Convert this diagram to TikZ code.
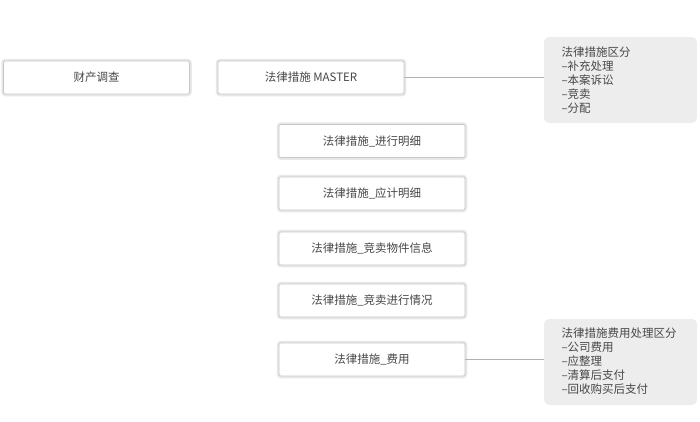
\documentclass[tikz,border=0pt]{standalone}
\usepackage{fontspec}
\setmainfont{Noto Sans CJK SC}
\usepackage{tikz}
\usetikzlibrary{shapes}

\begin{document}
\begin{tikzpicture}[x=1pt, y=-1pt,
        main/.style = {draw=black!22, line width=0.7pt, fill=white, rounded corners=2pt,
                preaction={draw=black!9, line width=4.5pt},
                minimum width=186pt, minimum height=33pt, text=black!72, font=\fontsize{11.5}{13}\selectfont},
        note/.style = {fill=black!7, rounded corners=5pt, minimum width=153pt, minimum height=86pt},
        notetext/.style = {anchor=north west, align=left, text=black!72, font=\fontsize{11.5}{14}\selectfont}]
                \useasboundingbox (0,0) rectangle (700,421);

                \node[main] at (96.5, 77.5) (cczc) {财产调查};
                \node[main] at (311, 77.5) (mst) {法律措施 MASTER};
                \node[main] at (372, 141) (jxmx) {法律措施\_进行明细};
                \node[main] at (372, 193.5) (yjmx) {法律措施\_应计明细};
                \node[main] at (372, 248.5) (wjxx) {法律措施\_竞卖物件信息};
                \node[main] at (372, 300.5) (jmqk) {法律措施\_竞卖进行情况};
                \node[main] at (372, 359.5) (fy) {法律措施\_费用};

                \node[note] at (620.5, 80) (qf) {};
                \node[notetext] at (558, 43) (qft) {法律措施区分\\–补充处理\\–本案诉讼\\–竞卖\\–分配};
                \node[note] at (620.5, 362) (fyqf) {};
                \node[notetext] at (558, 324) (fyqft) {法律措施费用处理区分\\–公司费用\\–应整理\\–清算后支付\\–回收购买后支付};

                \draw [black!30, line width=0.6pt] (mst.east) -- (mst.east -| qf.west);
                \draw [black!30, line width=0.6pt] (fy.east) -- (fy.east -| fyqf.west);
\end{tikzpicture}
\end{document}
